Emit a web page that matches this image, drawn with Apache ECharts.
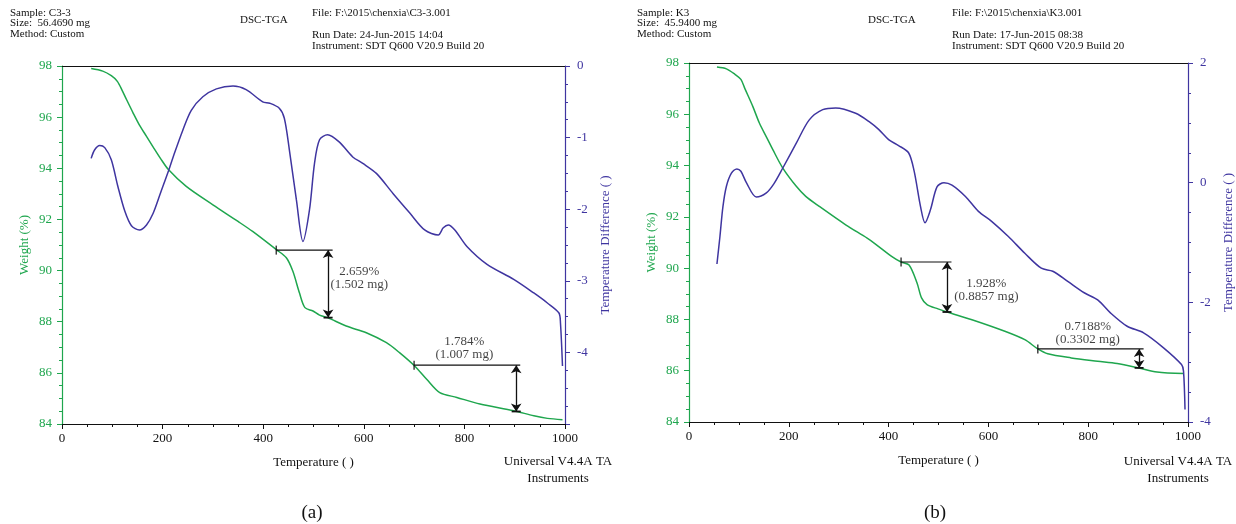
<!DOCTYPE html>
<html>
<head>
<meta charset="utf-8">
<title>DSC-TGA</title>
<script src="https://cdn.jsdelivr.net/npm/echarts@6/dist/echarts.min.js"></script>
<style>
  html, body { margin: 0; padding: 0; background: #fff; }
  #chart { width: 1236px; height: 524px; }
</style>
</head>
<body>
<div id="chart"></div>
<script>
// ---- (a) C3-3 ----
const tempA_tga = [58, 81, 98, 110, 120, 128, 141, 154, 168, 181, 196, 212, 247, 300, 350, 379, 426, 446, 459, 472, 483, 499, 512, 528, 565, 605, 645, 671, 701, 725, 751, 785, 831, 898, 938, 965, 995];
const weightA = [97.9, 97.8, 97.62, 97.4, 97.03, 96.7, 96.18, 95.69, 95.25, 94.84, 94.38, 93.94, 93.29, 92.57, 91.92, 91.53, 90.82, 90.5, 89.97, 89.13, 88.55, 88.42, 88.26, 88.16, 87.83, 87.57, 87.18, 86.79, 86.27, 85.75, 85.23, 85.04, 84.78, 84.52, 84.32, 84.22, 84.17];
const tempA_dsc = [58, 65, 75, 85, 98, 111, 125, 138, 154, 168, 181, 196, 212, 221, 240, 257, 280, 307, 340, 366, 399, 413, 432, 442, 452, 466, 479, 492, 502, 512, 528, 551, 578, 598, 625, 658, 691, 721, 748, 758, 768, 781, 805, 845, 898, 938, 965, 988, 991, 995];
const dscA = [-1.29, -1.17, -1.11, -1.14, -1.31, -1.68, -2.03, -2.23, -2.29, -2.22, -2.06, -1.77, -1.46, -1.27, -0.90, -0.62, -0.43, -0.32, -0.28, -0.33, -0.50, -0.52, -0.59, -0.73, -1.17, -1.87, -2.45, -2.01, -1.36, -1.03, -0.96, -1.06, -1.27, -1.36, -1.50, -1.78, -2.05, -2.29, -2.36, -2.26, -2.22, -2.29, -2.52, -2.77, -2.98, -3.17, -3.31, -3.45, -3.59, -4.19];

// ---- (b) K3 ----
const tempB_tga = [56, 75, 92, 104, 112, 128, 141, 155, 168, 188, 215, 234, 261, 314, 357, 373, 406, 425, 441, 457, 466, 477, 499, 517, 567, 633, 673, 699, 719, 766, 819, 858, 901, 938, 991];
const weightB = [97.84, 97.77, 97.56, 97.36, 97.0, 96.3, 95.66, 95.12, 94.62, 93.9, 93.19, 92.8, 92.41, 91.69, 91.17, 90.95, 90.46, 90.24, 90.12, 89.42, 88.84, 88.58, 88.41, 88.29, 87.99, 87.54, 87.21, 86.85, 86.66, 86.5, 86.37, 86.28, 86.11, 85.95, 85.89];
const tempB_dsc = [56, 62, 68, 75, 85, 96, 104, 115, 135, 155, 170, 188, 215, 241, 268, 294, 334, 361, 380, 400, 420, 440, 451, 464, 473, 484, 497, 511, 527, 554, 580, 607, 640, 673, 706, 729, 759, 792, 819, 845, 878, 911, 951, 987, 991, 994];
const dscB = [-1.36, -0.90, -0.40, -0.06, 0.16, 0.23, 0.19, 0.0, -0.24, -0.17, -0.02, 0.245, 0.66, 1.05, 1.22, 1.25, 1.16, 1.02, 0.89, 0.72, 0.62, 0.50, 0.20, -0.40, -0.67, -0.45, -0.07, 0.0, -0.04, -0.23, -0.48, -0.65, -0.90, -1.18, -1.43, -1.48, -1.65, -1.84, -1.96, -2.18, -2.40, -2.51, -2.76, -3.04, -3.15, -3.79];

// weight-loss steps: [start T, end T, start weight, arrow T, end weight, cap T0, cap T1, label T, label weight, text]
const stepsA = [
  [426, 538, 90.8, 529, 88.16, 520, 538, 591, 89.71, '2.659%\n(1.502 mg)'],
  [700, 911, 86.30, 903, 84.49, 894, 912, 800, 86.96, '1.784%\n(1.007 mg)']
];
const stepsB = [
  [425, 526, 90.24, 517, 88.29, 508, 526, 596, 89.16, '1.928%\n(0.8857 mg)'],
  [699, 911, 86.85, 902, 86.11, 893, 911, 799, 87.46, '0.7188%\n(0.3302 mg)']
];

const headerA = ['Sample: C3-3', 'Size:  56.4690 mg', 'Method: Custom'];
const infoA = ['File: F:\\2015\\chenxia\\C3-3.001', 'Run Date: 24-Jun-2015 14:04', 'Instrument: SDT Q600 V20.9 Build 20'];
const headerB = ['Sample: K3', 'Size:  45.9400 mg', 'Method: Custom'];
const infoB = ['File: F:\\2015\\chenxia\\K3.001', 'Run Date: 17-Jun-2015 08:38', 'Instrument: SDT Q600 V20.9 Build 20'];

const FONT = '"Liberation Serif", "Times New Roman", serif';
const green = '#1fa64e';
const blue = '#3f35a0';

function zip(xs, ys) {
  return xs.map((x, i) => [x, ys[i]]);
}

function xAxes(gridIndex) {
  return [
    {
      type: 'value', gridIndex: gridIndex, min: 0, max: 1000, interval: 200,
      name: 'Temperature ( )', nameLocation: 'middle', nameGap: 32,
      nameTextStyle: {color: '#111', fontFamily: FONT, fontSize: 13},
      axisLine: {onZero: false, lineStyle: {color: '#111', width: 1.2}},
      axisTick: {length: 5, lineStyle: {color: '#111'}},
      minorTick: {show: true, splitNumber: 4, length: 3, lineStyle: {color: '#111'}},
      axisLabel: {color: '#111', fontFamily: FONT, fontSize: 13, margin: 8, formatter: v => String(v)},
      splitLine: {show: false}
    },
    {
      type: 'value', gridIndex: gridIndex, position: 'top', min: 0, max: 1000,
      axisLine: {onZero: false, lineStyle: {color: '#111', width: 1.2}},
      axisTick: {show: false}, axisLabel: {show: false}, splitLine: {show: false}
    }
  ];
}

function leftAxis(gridIndex) {
  return {
    type: 'value', gridIndex: gridIndex, position: 'left', min: 84, max: 98, interval: 2,
    name: 'Weight (%)', nameLocation: 'middle', nameRotate: 90, nameGap: 31,
    nameTextStyle: {color: green, fontFamily: FONT, fontSize: 13},
    axisLine: {show: true, onZero: false, lineStyle: {color: green, width: 1.2}},
    axisTick: {show: true, length: 5, lineStyle: {color: green}},
    minorTick: {show: true, splitNumber: 4, length: 3, lineStyle: {color: green}},
    axisLabel: {color: green, fontFamily: FONT, fontSize: 13, margin: 10},
    splitLine: {show: false}
  };
}

function rightAxis(gridIndex, min, max, interval) {
  return {
    type: 'value', gridIndex: gridIndex, position: 'right', min: min, max: max, interval: interval,
    name: 'Temperature Difference ( )', nameLocation: 'middle', nameRotate: 90, nameGap: 34,
    nameTextStyle: {color: blue, fontFamily: FONT, fontSize: 13},
    axisLine: {show: true, onZero: false, lineStyle: {color: blue, width: 1.2}},
    axisTick: {show: true, length: 5, lineStyle: {color: blue}},
    minorTick: {show: true, splitNumber: 4, length: 3, lineStyle: {color: blue}},
    axisLabel: {
      color: blue, fontFamily: FONT, fontSize: 13, margin: 12,
      formatter: v => (gridIndex === 0 && v === min) ? '' : String(v)
    },
    splitLine: {show: false}
  };
}

function curve(data, xi, yi, color) {
  return {
    type: 'line', xAxisIndex: xi, yAxisIndex: yi, data: data,
    showSymbol: false, smooth: 0.3,
    lineStyle: {color: color, width: 1.5}, z: 3
  };
}

function stepSeries(steps, xi, yi) {
  let out = [];
  steps.forEach(s => {
    // horizontal line
    out.push({
      type: 'line', xAxisIndex: xi, yAxisIndex: yi, data: [[s[0], s[2]], [s[1], s[2]]],
      showSymbol: false, lineStyle: {color: '#111', width: 1.2}, z: 4
    });
    // left cap
    out.push({
      type: 'scatter', xAxisIndex: xi, yAxisIndex: yi, data: [[s[0], s[2]]],
      symbol: 'rect', symbolSize: [1.5, 9], itemStyle: {color: '#111'}, z: 4
    });
    // bottom cap
    out.push({
      type: 'line', xAxisIndex: xi, yAxisIndex: yi, data: [[s[5], s[4]], [s[6], s[4]]],
      showSymbol: false, lineStyle: {color: '#111', width: 1.8}, z: 4
    });
    // double arrow
    out.push({
      type: 'lines', coordinateSystem: 'cartesian2d', xAxisIndex: xi, yAxisIndex: yi,
      data: [{coords: [[s[3], s[2]], [s[3], s[4]]]}],
      symbol: ['arrow', 'arrow'], symbolSize: 8,
      lineStyle: {color: '#111', width: 1.3, opacity: 1}, z: 4
    });
    // label
    out.push({
      type: 'scatter', xAxisIndex: xi, yAxisIndex: yi, data: [[s[7], s[8]]],
      symbolSize: 1, itemStyle: {color: 'transparent'}, z: 5,
      label: {
        show: true, position: 'inside', formatter: s[9],
        color: '#111', fontFamily: FONT, fontSize: 13, lineHeight: 13, align: 'center'
      }
    });
  });
  return out;
}

function text(str, x, y, size, align) {
  return {
    type: 'text', x: x, y: y,
    style: {
      text: str, fill: '#111', font: size + 'px ' + FONT,
      textAlign: align || 'left', textVerticalAlign: 'middle'
    }
  };
}

function panelText(header, info, x0, xTitle, xInfo, xMid, xUni, label) {
  return [
    text(header[0], x0, 13, 11), text(header[1], x0, 23.5, 11), text(header[2], x0, 34, 11),
    text('DSC-TGA', xTitle, 20, 11),
    text(info[0], xInfo, 13, 11), text(info[1], xInfo, 35, 11), text(info[2], xInfo, 46, 11),
    text('Universal V4.4A TA', xUni, 462, 13, 'center'),
    text('Instruments', xUni, 479, 13, 'center'),
    text(label, xMid, 513, 19, 'center')
  ];
}

const chart = echarts.init(document.getElementById('chart'));

const option = {
  animation: false,
  backgroundColor: '#fff',
  grid: [
    {left: 62, right: 671, top: 66, bottom: 100},
    {left: 689, right: 44, top: 63, bottom: 102}
  ],
  xAxis: [].concat(xAxes(0), xAxes(1)),
  yAxis: [leftAxis(0), rightAxis(0, -5, 0, 1), leftAxis(1), rightAxis(1, -4, 2, 2)],
  graphic: [].concat(
    panelText(headerA, infoA, 10, 240, 312, 312, 558, '(a)'),
    panelText(headerB, infoB, 637, 868, 952, 935, 1178, '(b)')
  ),
  series: [].concat(
    [
      curve(zip(tempA_tga, weightA), 0, 0, green),
      curve(zip(tempA_dsc, dscA), 0, 1, blue),
      curve(zip(tempB_tga, weightB), 2, 2, green),
      curve(zip(tempB_dsc, dscB), 2, 3, blue)
    ],
    stepSeries(stepsA, 0, 0),
    stepSeries(stepsB, 2, 2)
  )
};

chart.setOption(option);
</script>
</body>
</html>
